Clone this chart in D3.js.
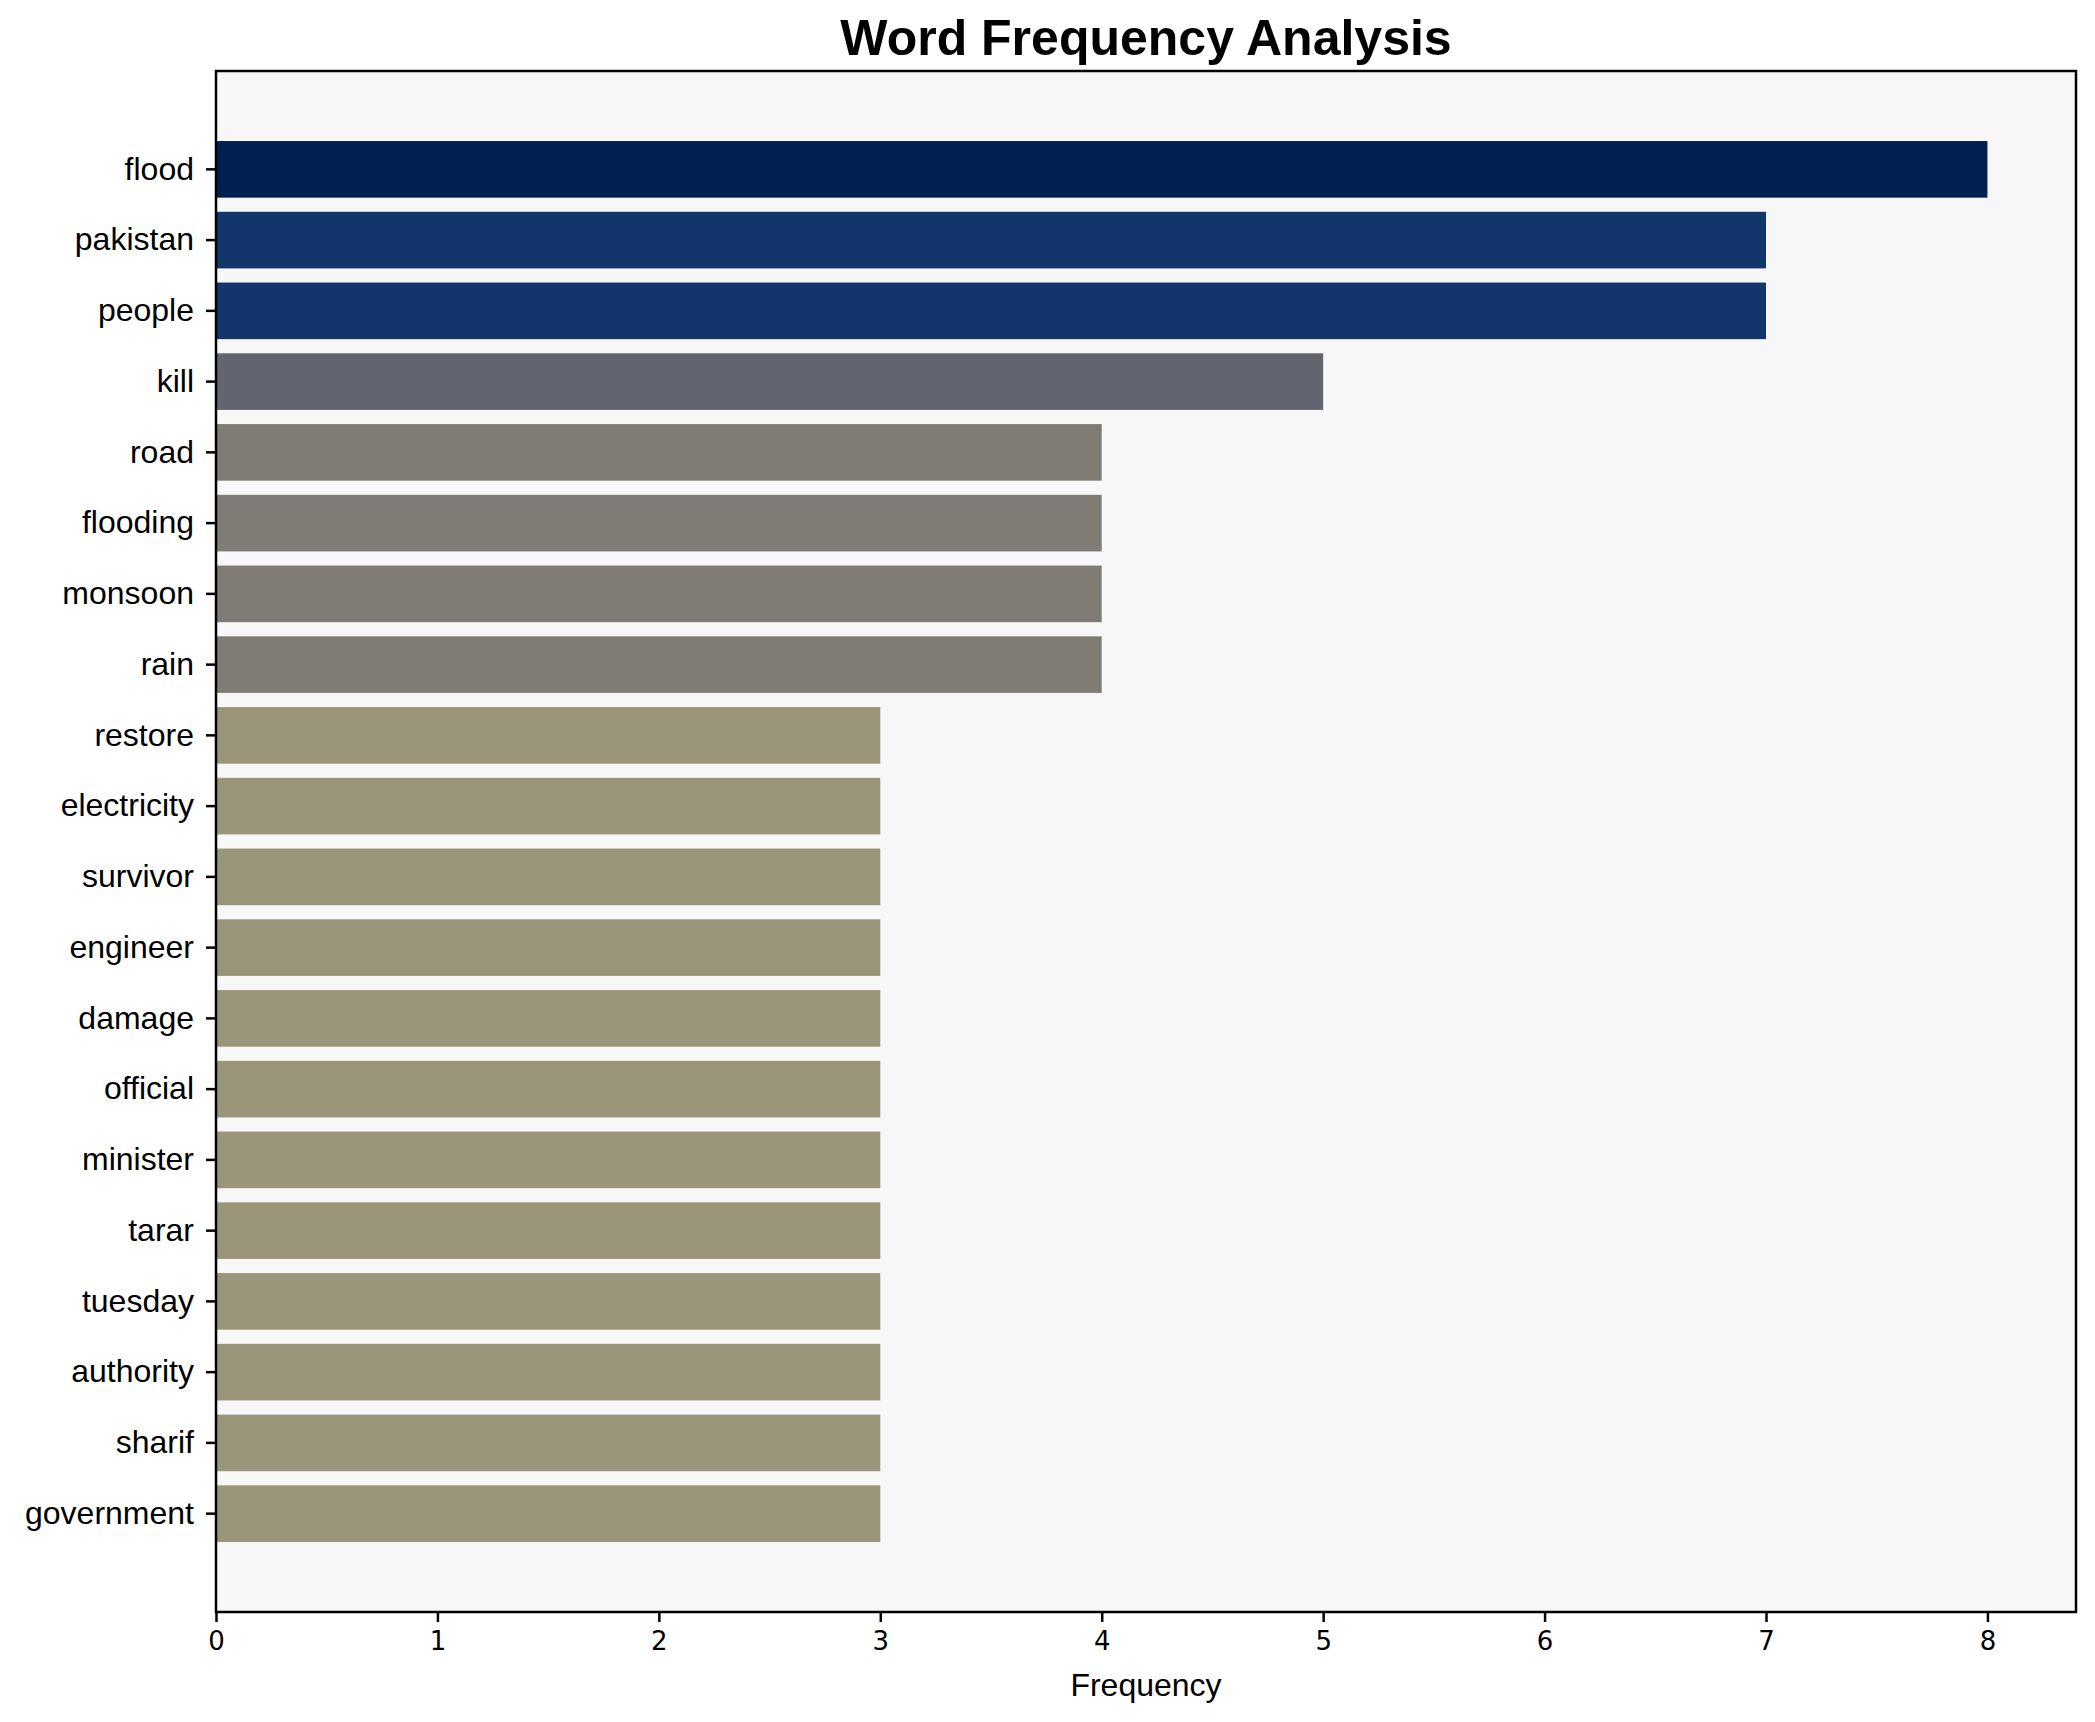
<!DOCTYPE html>
<html>
  <head>
    <meta charset="utf-8">
    <title>Word Frequency Analysis</title>
    <script src="https://cdn.jsdelivr.net/npm/d3@7"></script>
    <style>
      body { margin: 0; background: #fff; }
      #chart { display: block; }
      .yAxis text { font-family: "Liberation Sans", Arial, sans-serif; font-size: 32px; fill: #000; }
      .xAxis text { font-family: "DejaVu Sans", sans-serif; font-size: 26px; fill: #000; }
      .domain, .tick line { stroke: #000; stroke-width: 2.5px; }
    </style>
  </head>
  <body>
    <svg id="chart" width="2095" height="1722"></svg>
    <script>
      // data
      words = ["flood", "pakistan", "people", "kill", "road", "flooding", "monsoon", "rain",
        "restore", "electricity", "survivor", "engineer", "damage", "official", "minister",
        "tarar", "tuesday", "authority", "sharif", "government"];
      counts = [8, 7, 7, 5, 4, 4, 4, 4, 3, 3, 3, 3, 3, 3, 3, 3, 3, 3, 3, 3];
      xTicks = [0, 1, 2, 3, 4, 5, 6, 7, 8];

      chart = d3.select("#chart");
      margin = { top: 71, right: 19, bottom: 110, left: 216 };
      width = 2095;
      height = 1722;

      x = d3.scaleLinear()
        .domain([0, d3.max(counts) * 1.05])
        .range([margin.left, width - margin.right]);
      y = d3.scaleBand()
        .domain(words)
        .range([margin.top, height - margin.bottom])
        .paddingInner(0.2)
        .paddingOuter(0.99);
      colour = function(v) {
        return d3.interpolateCividis(1 - v / d3.max(counts));
      };

      // plot background
      chart.append("rect")
        .attr("x", margin.left)
        .attr("y", margin.top)
        .attr("width", width - margin.left - margin.right)
        .attr("height", height - margin.top - margin.bottom)
        .attr("fill", "#f7f7f7");

      // bars
      chart.append("g")
        .selectAll("rect")
        .data(words)
        .join("rect")
          .attr("x", x(0))
          .attr("y", function(d) { return y(d); })
          .attr("width", function(d, i) { return x(counts[i]) - x(0); })
          .attr("height", y.bandwidth())
          .attr("fill", function(d, i) { return colour(counts[i]); });

      // axes
      chart.append("g")
        .classed("yAxis", true)
        .attr("transform", "translate(" + margin.left + ", 0)")
        .call(d3.axisLeft(y)
          .tickSizeOuter(0)
          .tickSizeInner(10)
          .tickPadding(12)
        )
        .call(function(g) { g.select(".domain").remove(); });
      chart.append("g")
        .classed("xAxis", true)
        .attr("transform", "translate(0, " + (height - margin.bottom) + ")")
        .call(d3.axisBottom(x)
          .tickValues(xTicks)
          .tickFormat(d3.format("d"))
          .tickSizeOuter(0)
          .tickSizeInner(10)
          .tickPadding(10)
        )
        .call(function(g) { g.select(".domain").remove(); });

      // frame
      chart.append("rect")
        .attr("x", margin.left)
        .attr("y", margin.top)
        .attr("width", width - margin.left - margin.right)
        .attr("height", height - margin.top - margin.bottom)
        .attr("fill", "none")
        .attr("stroke", "#000")
        .attr("stroke-width", 2.5);

      // labels
      chart.append("text")
        .attr("x", (margin.left + width - margin.right) / 2)
        .attr("y", 55)
        .attr("text-anchor", "middle")
        .style("font-family", "'Liberation Sans', Arial, sans-serif")
        .style("font-weight", "bold")
        .style("font-size", "50px")
        .text("Word Frequency Analysis");
      chart.append("text")
        .attr("x", (margin.left + width - margin.right) / 2)
        .attr("y", 1696)
        .attr("text-anchor", "middle")
        .style("font-family", "'Liberation Sans', Arial, sans-serif")
        .style("font-size", "32px")
        .text("Frequency");
    </script>
  </body>
</html>
